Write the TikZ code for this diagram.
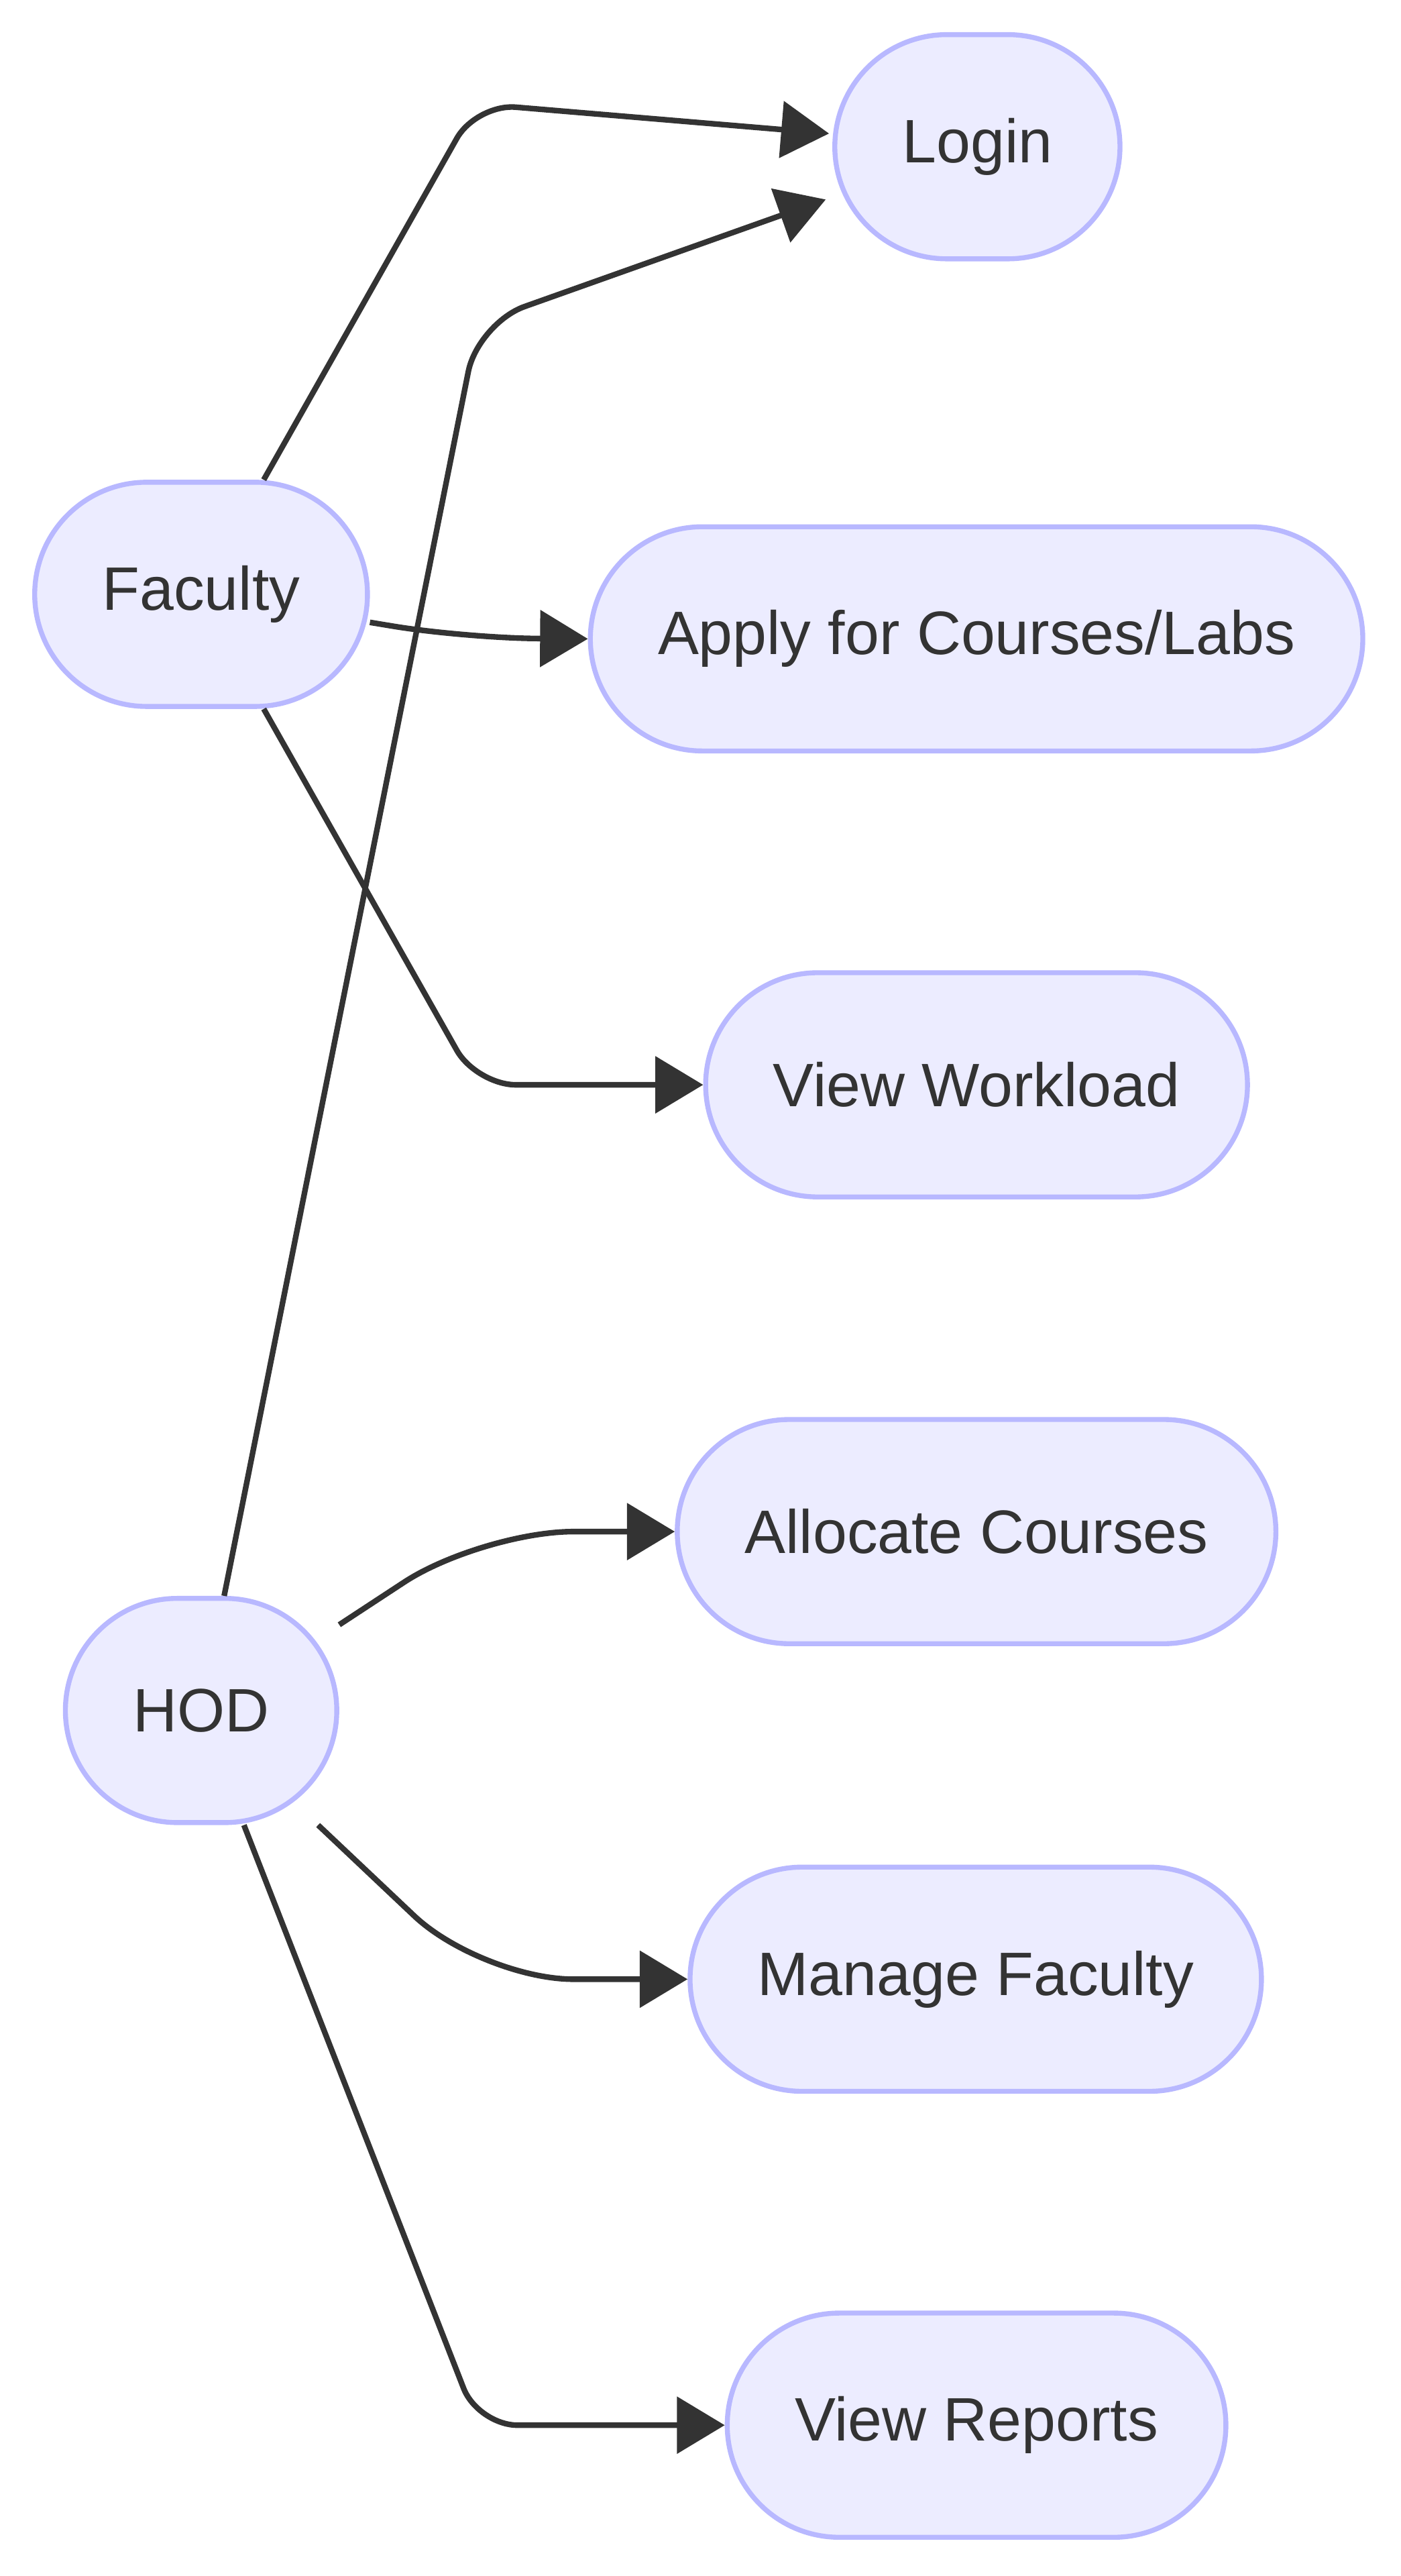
\documentclass[tikz,border=0pt]{standalone}
\usepackage{fontspec}
\setmainfont{Liberation Sans}
\usetikzlibrary{arrows.meta}
\definecolor{myfill}{RGB}{236, 236, 255}
\definecolor{myborder}{RGB}{184, 184, 255}
\definecolor{myline}{RGB}{51, 51, 51}

\begin{document}
\begin{tikzpicture}[x=0.5pt, y=-0.5pt,
        usecase/.style={draw=myborder, fill=myfill, line width=1.5pt, rounded corners=34pt,
            minimum height=68pt, inner xsep=20.5pt, text=myline,
            font=\fontsize{18.6}{22}\selectfont},
        edgeline/.style={draw=myline, line width=1.7pt, -{Triangle[length=14.5pt,width=17pt]}}]
        \useasboundingbox (0,0) rectangle (850,1562.5);

        % Actors
        \node [usecase] (faculty) at (122,360.5) {Faculty};
        \node [usecase] (hod) at (122,1037.5) {HOD};

        % Use cases
        \node [usecase] (login) at (593,89) {Login};
        \node [usecase] (apply) at (592.5,387.5) {Apply for Courses/Labs};
        \node [usecase] (workload) at (592.5,658) {View Workload};
        \node [usecase] (allocate) at (592.5,929) {Allocate Courses};
        \node [usecase] (manage) at (592,1200.5) {Manage Faculty};
        \node [usecase] (reports) at (592.5,1471) {View Reports};

        % Faculty links
        \draw[edgeline, rounded corners=12pt] ([xshift=19pt]faculty.north) -- (289,63) -- ([shift={(-1pt,4pt)}]login.west);
        \draw[edgeline, rounded corners=22pt] ([yshift=-8.5pt]faculty.east) -- (282,387) -- (apply.west);
        \draw[edgeline, rounded corners=12pt] ([xshift=19pt]faculty.south) -- (289,658) -- (workload.west);

        % HOD links
        \draw[edgeline, rounded corners=15pt] ([xshift=7pt]hod.north) -- (290,196) -- ([shift={(-2pt,-16pt)}]login.west);
        \draw[edgeline, rounded corners=28pt] ([yshift=26pt]hod.east) -- (292,929) -- (allocate.west);
        \draw[edgeline, rounded corners=28pt] ([xshift=35.5pt]hod.south) -- (292,1200.5) -- (manage.west);
        \draw[edgeline, rounded corners=12pt] ([xshift=13pt]hod.south) -- (290,1471) -- (reports.west);
    \end{tikzpicture}
\end{document}
